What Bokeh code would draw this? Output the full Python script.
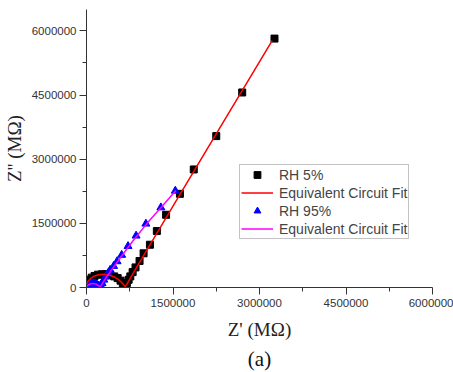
from bokeh.plotting import figure
from bokeh.models import (Range1d, FixedTicker, BasicTickFormatter, Legend, LegendItem, Title)
from bokeh.embed import file_html
from bokeh.resources import INLINE

# ---- data (Z' and Z'' in MOhm units as plotted) ----
rh5_x = [0.02e6, 0.05e6, 0.09e6, 0.14e6, 0.20e6, 0.27e6, 0.34e6, 0.41e6, 0.48e6, 0.54e6, 0.59e6, 0.63e6, 0.66e6,
         0.68e6, 0.70e6, 0.73e6, 0.76e6, 0.80e6, 0.85e6, 0.92e6, 0.99e6, 1.10e6, 1.22e6, 1.38e6, 1.62e6, 1.86e6,
         2.25e6, 2.70e6, 3.26e6]
rh5_y = [0.12e6, 0.18e6, 0.23e6, 0.27e6, 0.30e6, 0.31e6, 0.31e6, 0.29e6, 0.26e6, 0.22e6, 0.16e6, 0.10e6, 0.05e6,
         0.03e6, 0.10e6, 0.18e6, 0.26e6, 0.36e6, 0.47e6, 0.62e6, 0.80e6, 1.00e6, 1.32e6, 1.70e6, 2.19e6, 2.76e6,
         3.54e6, 4.56e6, 5.82e6]

fit5_x = [0.0, 0.03e6, 0.08e6, 0.14e6, 0.21e6, 0.28e6, 0.35e6, 0.42e6, 0.49e6, 0.55e6, 0.60e6, 0.64e6, 0.67e6,
          0.70e6, 0.80e6, 1.00e6, 1.50e6, 2.20e6, 3.22e6]
fit5_y = [0.08e6, 0.15e6, 0.22e6, 0.27e6, 0.30e6, 0.31e6, 0.30e6, 0.28e6, 0.24e6, 0.19e6, 0.13e6, 0.07e6, 0.02e6,
          0.08e6, 0.31e6, 0.77e6, 1.90e6, 3.48e6, 5.77e6]

rh95_x = [0.01e6, 0.03e6, 0.06e6, 0.09e6, 0.12e6, 0.15e6, 0.18e6, 0.21e6, 0.23e6, 0.25e6, 0.27e6, 0.30e6, 0.33e6,
          0.37e6, 0.41e6, 0.47e6, 0.53e6, 0.61e6, 0.72e6, 0.86e6, 1.03e6, 1.29e6, 1.54e6]
rh95_y = [0.03e6, 0.06e6, 0.085e6, 0.10e6, 0.10e6, 0.09e6, 0.07e6, 0.045e6, 0.02e6, 0.04e6, 0.10e6, 0.18e6, 0.25e6,
          0.33e6, 0.41e6, 0.50e6, 0.61e6, 0.76e6, 0.965e6, 1.21e6, 1.49e6, 1.87e6, 2.26e6]

fit95_x = [0.0, 0.02e6, 0.05e6, 0.08e6, 0.11e6, 0.14e6, 0.17e6, 0.20e6, 0.23e6, 0.26e6, 0.30e6, 0.36e6, 0.45e6,
           0.60e6, 0.80e6, 1.05e6, 1.30e6, 1.55e6]
fit95_y = [0.02e6, 0.05e6, 0.075e6, 0.09e6, 0.095e6, 0.09e6, 0.075e6, 0.05e6, 0.02e6, 0.06e6, 0.15e6, 0.27e6, 0.44e6,
           0.72e6, 1.08e6, 1.50e6, 1.88e6, 2.27e6]

major_ticks = [0, 1500000, 3000000, 4500000, 6000000]
minor_ticks = [750000, 2250000, 3750000, 5250000]
legend_labels = ["RH 5%", "Equivalent Circuit Fit", "RH 95%", "Equivalent Circuit Fit"]
x_title = "Z' (MΩ)"
y_title = "Z'' (MΩ)"
caption = "(a)"

p = figure(width=453, height=372, output_backend="svg", toolbar_location=None,
           x_range=Range1d(0, 6000000), y_range=Range1d(0, 6500000),
           min_border_left=86, min_border_right=21, min_border_top=9, min_border_bottom=85)
p.outline_line_color = None
p.xgrid.visible = False
p.ygrid.visible = False
p.background_fill_color = "white"
p.border_fill_color = "white"

for ax in (p.xaxis[0], p.yaxis[0]):
    ax.ticker = FixedTicker(ticks=major_ticks, minor_ticks=minor_ticks)
    ax.formatter = BasicTickFormatter(use_scientific=False)
    ax.major_label_text_font = "Liberation Sans"
    ax.major_label_text_font_size = "11.5px"
    ax.major_label_text_color = "#333333"
    ax.axis_line_color = "#333333"
    ax.major_tick_line_color = "#333333"
    ax.minor_tick_line_color = "#333333"
    ax.major_tick_out = 7
    ax.major_tick_in = 0
    ax.minor_tick_out = 4
    ax.minor_tick_in = 0
    ax.axis_label_text_font = "Liberation Serif"
    ax.axis_label_text_font_style = "normal"
    ax.axis_label_text_font_size = "19px"
    ax.axis_label_text_color = "#222222"
p.xaxis.major_label_standoff = 4
p.yaxis.major_label_standoff = 3
p.xaxis.axis_label = x_title
p.yaxis.axis_label = y_title
p.xaxis.axis_label_standoff = 9
p.yaxis.axis_label_standoff = 4

r5 = p.scatter(rh5_x, rh5_y, marker="square", size=7, color="black")
r95 = p.scatter(rh95_x, rh95_y, marker="triangle", size=8, color="#0000ff")
l5 = p.line(fit5_x, fit5_y, line_color="#ff0000", line_width=1.5)
l95 = p.line(fit95_x, fit95_y, line_color="#ff00ff", line_width=1.5)

legend = Legend(items=[LegendItem(label=legend_labels[0], renderers=[r5]),
                       LegendItem(label=legend_labels[1], renderers=[l5]),
                       LegendItem(label=legend_labels[2], renderers=[r95]),
                       LegendItem(label=legend_labels[3], renderers=[l95])],
                location=(153, 48), label_text_font="Liberation Sans", label_text_font_size="14px",
                glyph_width=32, glyph_height=17, label_height=17, label_standoff=6, spacing=1,
                padding=1, margin=0, border_line_color="#888888", border_line_width=1,
                background_fill_alpha=1.0)
p.add_layout(legend, "center")

p.add_layout(Title(text=caption, align="center", text_font="Liberation Serif",
                   text_font_style="normal", text_font_size="21px", text_color="#111111",
                   standoff=4, offset=-8), "below")

open("out.html", "w").write(file_html(p, INLINE))
